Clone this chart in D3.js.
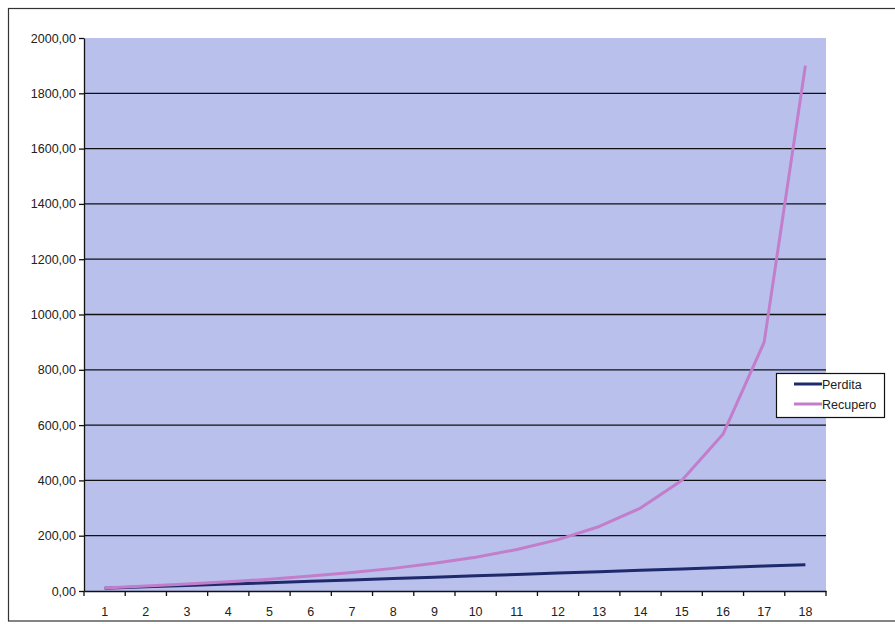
<!DOCTYPE html>
<html><head><meta charset="utf-8">
<script src="https://cdn.jsdelivr.net/npm/d3@7"></script>
<style>body{margin:0;background:#fff;}svg{display:block;}</style>
</head><body>
<svg id="c" width="895" height="624"></svg>
<script>
const categories = ["1","2","3","4","5","6","7","8","9","10","11","12","13","14","15","16","17","18"];
const perdita = [10,15,20,25,30,35,40,45,50,55,60,65,70,75,80,85,90,95];
const recupero = [11.11,17.65,25.00,33.33,42.86,53.85,66.67,81.82,100.00,122.22,150.00,185.71,233.33,300.00,400.00,566.67,900.00,1900.00];
const yTicks = [0,200,400,600,800,1000,1200,1400,1600,1800,2000];
const seriesNames = ["Perdita","Recupero"];
const colors = ["#1f2a6c","#c27ecb"];

const svg = d3.select("#c");
const m = {l:84, t:38, r:826, b:591};
const font = "Arial, 'Liberation Sans', sans-serif";
svg.append("rect").attr("x",8.5).attr("y",8.5).attr("width",900).attr("height",612.5)
  .attr("fill","#fff").attr("stroke","#333").attr("stroke-width",1.2);

const x = d3.scaleBand().domain(categories).range([m.l,m.r]);
const y = d3.scaleLinear().domain([0,2000]).range([m.b,m.t]);

svg.append("rect").attr("x",m.l).attr("y",m.t).attr("width",m.r-m.l).attr("height",m.b-m.t)
  .attr("fill","#b9c0ec");

svg.append("g").selectAll("line").data(yTicks.filter(d=>d>0 && d<2000)).join("line")
  .attr("x1",m.l).attr("x2",m.r).attr("y1",d=>y(d)).attr("y2",d=>y(d))
  .attr("stroke","#111").attr("stroke-width",1.3);

const fmt = d => d3.format(".2f")(d).replace(".",",");
const ya = svg.append("g").attr("transform",`translate(${m.l},0)`)
  .call(d3.axisLeft(y).tickValues(yTicks).tickFormat(fmt).tickSize(5).tickSizeOuter(0));
ya.select(".domain").attr("stroke","#111").attr("stroke-width",1.3);
ya.selectAll("line").attr("stroke","#111").attr("stroke-width",1.3);
ya.selectAll("text").attr("font-family",font).attr("font-size",12.5).attr("fill","#222").attr("x",-8);

const xa = svg.append("g").attr("transform",`translate(0,${m.b})`)
  .call(d3.axisBottom(x).tickSize(0).tickSizeOuter(0));
xa.select(".domain").attr("stroke","#111").attr("stroke-width",1.3);
xa.selectAll("text").attr("font-family",font).attr("font-size",12.5).attr("fill","#222").attr("y",16);
const bounds = categories.map(c=>x(c)).concat([m.r]);
xa.append("g").selectAll("line").data(bounds).join("line")
  .attr("x1",d=>d).attr("x2",d=>d).attr("y1",0).attr("y2",5).attr("stroke","#111").attr("stroke-width",1.3);

const line = d3.line().x((d,i)=>x(categories[i])+x.bandwidth()/2).y(d=>y(d));
[perdita,recupero].forEach((s,k)=>{
  svg.append("path").datum(s).attr("d",line).attr("fill","none")
    .attr("stroke",colors[k]).attr("stroke-width",3).attr("stroke-linejoin","round");
});

const lg = svg.append("g").attr("transform","translate(776,373)");
lg.append("rect").attr("x",0.5).attr("y",0.5).attr("width",108).attr("height",44)
  .attr("fill","#fff").attr("stroke","#111").attr("stroke-width",1.2);
seriesNames.forEach((n,i)=>{
  const yy = 11 + i*20;
  lg.append("line").attr("x1",18).attr("x2",46).attr("y1",yy).attr("y2",yy)
    .attr("stroke",colors[i]).attr("stroke-width",3);
  lg.append("text").attr("x",46).attr("y",yy+4.5).text(n)
    .attr("font-family",font).attr("font-size",12.5).attr("fill","#222");
});
</script>
</body></html>
